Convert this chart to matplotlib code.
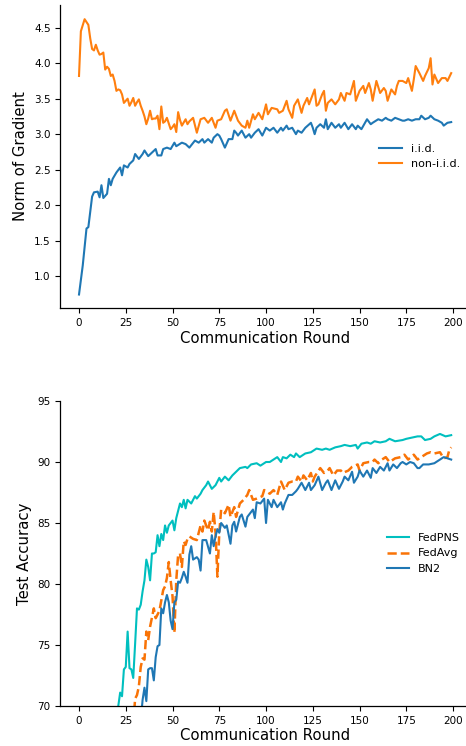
import matplotlib
matplotlib.use("Agg")
import matplotlib.pyplot as plt

# ---------------- top panel: norm of gradient ----------------
iid_rounds = [0,2,4,5,7,8,10,11,12,13,
              15,16,17,18,20,22,23,24,26,27,
              29,30,32,34,35,37,39,41,42,44,
              45,47,49,51,52,55,57,59,62,64,
              66,67,69,71,72,74,75,76,78,80,
              82,83,84,85,87,89,91,92,94,96,
              98,100,102,104,106,108,109,111,112,114,
              116,117,119,121,124,125,126,127,129,131,
              132,133,135,137,139,140,142,144,146,148,
              149,151,154,156,157,160,162,164,165,167,
              169,171,173,174,176,178,180,182,183,185,
              187,188,190,192,194,195,197,199]
iid_vals = [0.74,1.15,1.67,1.69,2.12,2.18,2.19,2.11,2.28,2.10,
            2.16,2.37,2.28,2.37,2.46,2.53,2.42,2.56,2.53,2.58,
            2.63,2.72,2.65,2.72,2.77,2.69,2.74,2.79,2.70,2.70,
            2.79,2.81,2.79,2.88,2.83,2.88,2.86,2.81,2.91,2.88,
            2.93,2.88,2.93,2.88,2.95,3.00,2.98,2.93,2.81,2.93,
            2.93,3.05,3.02,2.98,3.05,2.95,3.00,2.95,3.02,3.07,
            2.98,3.09,3.05,3.09,3.02,3.09,3.05,3.12,3.07,3.09,
            3.00,3.05,3.02,3.09,3.16,3.09,3.00,3.09,3.14,3.09,
            3.21,3.07,3.16,3.09,3.14,3.09,3.16,3.07,3.14,3.07,
            3.12,3.07,3.21,3.14,3.16,3.21,3.19,3.23,3.21,3.19,
            3.23,3.21,3.19,3.19,3.21,3.19,3.21,3.21,3.26,3.21,
            3.23,3.26,3.21,3.19,3.16,3.12,3.16,3.17]

noniid_rounds = [0,1,3,4,5,6,7,8,9,10,
                 11,12,13,14,15,16,17,18,19,20,
                 21,22,23,24,25,26,27,28,29,30,
                 31,32,33,34,35,36,37,38,39,40,
                 41,42,43,44,45,46,47,48,49,50,
                 51,52,53,54,55,57,58,59,61,63,
                 65,67,69,71,73,74,76,78,79,81,
                 83,85,87,89,90,91,93,94,96,98,
                 100,101,103,106,107,109,111,112,114,115,
                 117,119,120,122,123,126,127,128,130,131,
                 132,133,135,137,139,140,142,143,145,147,
                 148,150,152,153,155,156,157,159,161,163,
                 164,165,167,169,170,171,173,175,176,178,
                 179,180,182,184,185,187,188,189,190,192,
                 194,196,197,199]
noniid_vals = [3.82,4.45,4.62,4.58,4.54,4.35,4.20,4.18,4.26,4.18,
               4.12,4.13,4.15,3.91,3.95,3.92,3.82,3.84,3.75,3.61,
               3.63,3.62,3.56,3.44,3.47,3.50,3.40,3.45,3.51,3.40,
               3.45,3.49,3.40,3.33,3.25,3.14,3.22,3.33,3.21,3.22,
               3.22,3.26,3.07,3.39,3.16,3.18,3.23,3.15,3.07,3.10,
               3.14,3.03,3.31,3.20,3.12,3.21,3.14,3.18,3.23,3.02,
               3.21,3.23,3.16,3.23,3.09,3.19,3.21,3.33,3.35,3.19,
               3.33,3.19,3.12,3.09,3.19,3.09,3.28,3.21,3.30,3.21,
               3.42,3.28,3.37,3.35,3.30,3.33,3.47,3.35,3.23,3.40,
               3.49,3.30,3.40,3.51,3.42,3.63,3.40,3.42,3.56,3.61,
               3.33,3.44,3.49,3.42,3.49,3.58,3.47,3.58,3.56,3.75,
               3.47,3.61,3.68,3.58,3.72,3.63,3.47,3.75,3.58,3.65,
               3.61,3.47,3.63,3.56,3.68,3.75,3.75,3.72,3.79,3.61,
               3.77,3.96,3.86,3.75,3.82,3.93,4.07,3.70,3.84,3.72,
               3.79,3.79,3.75,3.86]

# ---------------- bottom panel: test accuracy ----------------
fedpns_rounds = [20,21,22,23,24,25,26,27,28,29,
                 30,31,32,33,34,35,36,37,38,39,
                 40,41,42,43,44,45,46,47,48,50,
                 51,52,54,55,56,57,58,60,62,63,
                 65,66,68,69,71,73,75,76,78,80,
                 82,84,86,89,90,92,95,97,100,102,
                 104,106,108,109,111,113,115,116,118,121,
                 124,127,130,132,134,137,140,142,145,148,
                 149,151,154,156,158,161,164,166,169,173,
                 175,178,181,183,185,188,190,193,196,199]
fedpns_vals = [68.5,70.0,71.1,70.8,73.0,73.2,76.1,73.1,73.0,72.3,
               75.1,78.0,77.9,78.3,79.4,80.3,82.0,81.4,80.3,82.5,
               82.5,82.6,84.0,83.1,84.1,83.6,84.8,84.2,84.8,85.2,
               84.4,85.4,86.6,86.3,86.9,86.2,86.9,86.6,87.2,87.0,
               87.4,87.7,88.1,88.4,87.8,88.1,88.7,88.4,88.8,88.5,
               88.9,89.2,89.5,89.6,89.5,89.8,89.9,89.7,90.0,90.0,
               90.2,90.4,90.0,90.4,90.3,90.6,90.4,90.7,90.4,90.7,
               90.8,91.1,91.0,91.1,91.0,91.2,91.3,91.4,91.3,91.4,
               91.1,91.5,91.6,91.5,91.7,91.6,91.7,91.9,91.7,91.8,
               91.9,92.0,92.1,92.1,91.8,91.9,92.1,92.3,92.1,92.2]

fedavg_rounds = [29,30,31,32,33,34,35,36,37,38,
                 40,41,43,45,46,47,48,49,50,51,
                 52,53,54,55,56,57,58,59,61,63,
                 65,66,67,69,70,71,72,73,74,75,
                 76,78,80,81,83,84,86,88,90,91,
                 93,95,98,99,100,102,104,106,108,110,
                 112,114,116,117,119,120,122,124,125,126,
                 129,131,133,134,136,138,140,141,144,146,
                 149,150,152,155,157,158,160,162,164,166,
                 169,172,174,176,179,181,183,186,188,190,
                 193,195,197,198,199]
fedavg_vals = [68.5,70.6,70.9,71.6,73.2,73.9,73.8,76.1,75.4,76.5,
               78.0,77.2,77.8,79.5,79.8,80.5,81.8,80.3,79.0,76.0,
               80.3,82.4,82.5,81.4,83.5,83.2,83.7,83.9,83.7,83.6,
               84.8,84.3,85.2,84.4,85.1,84.3,85.9,84.2,80.6,84.2,
               86.1,85.8,86.5,85.5,86.3,85.5,86.6,86.9,87.3,87.7,
               86.9,87.0,87.2,87.7,87.6,87.4,87.7,87.3,88.4,87.7,
               88.3,88.4,88.4,88.8,88.4,88.9,88.5,89.1,88.4,88.8,
               89.5,89.1,89.3,89.5,88.9,89.3,89.3,89.1,89.3,89.6,
               89.8,89.3,89.9,90.0,90.0,90.2,89.9,90.2,90.4,90.0,
               90.3,90.4,90.6,90.2,90.6,90.2,90.4,90.7,90.8,90.7,
               90.8,90.3,90.4,91.0,91.2]

bn2_rounds = [33,34,35,36,37,38,39,40,41,42,
              43,44,45,46,47,48,49,50,51,52,
              53,54,55,56,57,58,59,60,61,63,
              64,65,66,68,70,71,72,73,74,75,
              76,78,79,81,82,83,84,86,87,89,
              90,91,93,94,95,97,99,100,101,103,
              104,106,108,109,110,112,114,116,117,119,
              121,123,124,126,128,130,132,133,135,137,
              139,141,142,144,146,147,149,150,152,154,
              156,157,159,161,163,165,166,168,170,172,
              173,175,177,179,181,182,184,187,190,191,
              193,195,197,199]
bn2_vals = [68.8,70.5,71.5,70.4,73.0,73.1,73.1,72.1,74.0,74.9,
            75.0,78.0,77.6,78.5,79.1,78.5,77.0,76.3,78.5,78.7,
            80.2,80.1,80.5,81.0,80.6,80.1,82.4,83.1,82.0,82.2,
            82.0,81.1,83.6,83.6,82.5,84.0,83.1,83.9,84.5,84.2,
            85.0,84.6,84.8,83.3,84.8,85.1,84.3,85.5,85.7,84.7,
            85.5,85.7,86.1,85.4,86.7,86.6,87.0,85.0,86.9,86.3,
            86.9,86.3,86.7,86.1,86.6,87.3,87.3,87.6,87.8,88.3,
            87.7,88.3,87.7,88.1,88.8,87.7,88.3,88.5,87.7,88.5,
            87.8,88.4,88.8,88.5,89.2,88.3,88.8,89.3,88.8,89.3,
            88.7,89.5,89.1,89.6,89.3,89.9,89.3,89.8,89.5,89.9,
            90.0,89.8,90.0,89.9,89.5,89.5,89.8,89.8,89.9,90.0,
            90.2,90.4,90.3,90.2]

xticks = [0, 25, 50, 75, 100, 125, 150, 175, 200]
top_yticks = [1.0, 1.5, 2.0, 2.5, 3.0, 3.5, 4.0, 4.5]
bot_yticks = [70, 75, 80, 85, 90, 95]

for a, b in [(iid_rounds, iid_vals), (noniid_rounds, noniid_vals),
             (fedpns_rounds, fedpns_vals), (fedavg_rounds, fedavg_vals),
             (bn2_rounds, bn2_vals)]:
    assert len(a) == len(b), (len(a), len(b))

plt.rcParams['font.family'] = ['DejaVu Sans']

W, H = 466, 746
fig = plt.figure(figsize=(W / 100, H / 100), dpi=100)

left = 60.4 / W
width = 409.4 / W
ax1 = fig.add_axes([left, 1 - 308 / H, width, 303 / H])
ax2 = fig.add_axes([left, 1 - 706 / H, width, 305 / H])

blue = '#1f77b4'
orange = '#ff7f0e'

ax1.plot(iid_rounds, iid_vals, color=blue, lw=1.5, label='i.i.d.')
ax1.plot(noniid_rounds, noniid_vals, color=orange, lw=1.5, label='non-i.i.d.')
ax1.set_ylabel('Norm of Gradient', fontsize=10.7)
ax1.set_xlabel('Communication Round', fontsize=10.7, labelpad=2)
ax1.set_yticks(top_yticks)
ax1.set_ylim(0.55, 4.82)

ax2.plot(fedpns_rounds, fedpns_vals, color='c', lw=1.5, label='FedPNS')
ax2.plot(fedavg_rounds, fedavg_vals, color='#f97306', lw=1.8, ls='--', label='FedAvg')
ax2.plot(bn2_rounds, bn2_vals, color=blue, lw=1.5, label='BN2')
ax2.set_ylabel('Test Accuracy', fontsize=10.7)
ax2.set_xlabel('Communication Round', fontsize=10.7, labelpad=2)
ax2.set_yticks(bot_yticks)
ax2.set_ylim(70, 95)

for ax in (ax1, ax2):
    ax.set_xlim(-9.95, 208.95)
    ax.set_xticks(xticks)
    ax.tick_params(labelsize=7.5, length=3.5, width=0.8)
    for s in ('top', 'right'):
        ax.spines[s].set_visible(False)
    for s in ('left', 'bottom'):
        ax.spines[s].set_linewidth(0.9)
    ax.legend(loc='center right', frameon=False, fontsize=8)

fig.savefig('out.png', dpi=100)
